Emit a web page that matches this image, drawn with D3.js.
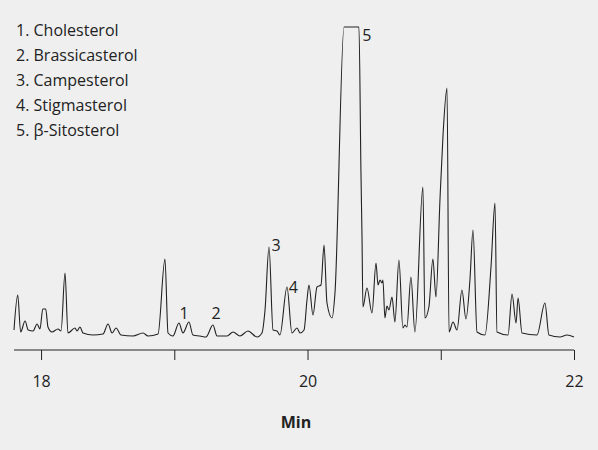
<!DOCTYPE html>
<html><head><meta charset="utf-8">
<script src="https://cdn.jsdelivr.net/npm/d3@7"></script>
<style>body{margin:0;background:#efefef}svg{display:block}text{font-family:"Open Sans",sans-serif;fill:#222}</style>
</head><body><svg id="c" width="598" height="450"></svg>
<script>
const times=[17.797,17.825,17.847,17.880,17.904,17.940,17.970,17.992,18.013,18.035,18.052,18.082,18.127,18.150,18.180,18.202,18.255,18.270,18.292,18.315,18.390,18.465,18.503,18.533,18.563,18.600,18.690,18.765,18.803,18.878,18.930,18.953,18.990,19.035,19.065,19.110,19.140,19.193,19.238,19.290,19.321,19.396,19.441,19.493,19.553,19.621,19.658,19.681,19.711,19.741,19.771,19.793,19.846,19.883,19.921,
19.944,19.974,19.996,20.011,20.041,20.071,20.101,20.124,20.146,20.184,20.206,20.274,20.386,20.401,20.409,20.416,20.446,20.484,20.514,20.529,20.544,20.559,20.566,20.581,20.596,20.611,20.634,20.656,20.686,20.716,20.731,20.746,20.776,20.806,20.866,20.881,20.911,20.941,20.964,20.994,21.017,21.047,21.062,21.092,21.122,21.159,21.189,21.219,21.242,21.272,21.332,21.377,21.407,21.422,21.505,21.535,21.565,21.580,21.610,21.722,21.782,21.812,21.895,21.947,22.000];
const signal=[15,50,13,24,15,14,21,16,36,36,18,13,16,14,72,12,17,14,18,12,10,11,21,12,17,10,9,12,9,11,86,12,9,22,12,23,10,9,8,20,9,9,13,9,14,8,12,35,98,15,14,10,58,12,17,
12,15,45,60,30,58,60,100,42,27,52,318,318,173,107,38,57,32,82,60,65,62,65,27,39,35,48,23,85,17,20,18,68,13,158,27,38,86,48,145,210,257,13,23,15,55,26,65,115,13,10,78,142,13,10,51,22,47,12,10,42,10,8,10,8];
const legendItems=["1. Cholesterol","2. Brassicasterol","3. Campesterol","4. Stigmasterol","5. β-Sitosterol"];
const peakLabels=[{l:"1",t:19.04,v:26},{l:"2",t:19.28,v:26},{l:"3",t:19.73,v:94},{l:"4",t:19.86,v:52},{l:"5",t:20.41,v:304}];
const xTicks=[18,20,22];
const svg=d3.select("#c");
const x=d3.scaleLinear().domain([17.797,22]).range([14,574]);
const y=d3.scaleLinear().domain([0,318]).range([345,27]);
svg.append("path").datum(times.map((t,i)=>[t,signal[i]])).attr("fill","none").attr("stroke","#222").attr("stroke-width",1.1)
 .attr("d",d3.line().x(d=>x(d[0])).y(d=>y(d[1])).curve(d3.curveMonotoneX));
const ax=svg.append("g").attr("transform","translate(0,350)")
 .call(d3.axisBottom(x).tickValues([18,19,20,21,22]).tickSize(10).tickFormat(d=>xTicks.includes(d)?d:""));
ax.select(".domain").attr("d","M14,0H574").attr("stroke","#222");
ax.selectAll("line").attr("stroke","#222");
ax.selectAll("text").attr("y",26).attr("dy","0.71em").style("font-size","16px").style("font-family","Open Sans");
svg.append("text").attr("x",296).attr("y",428).attr("text-anchor","middle").style("font-size","16px").style("font-weight","bold").text("Min");
legendItems.forEach((s,i)=>svg.append("text").attr("x",16).attr("y",36+i*25).style("font-size","16px").text(s));
peakLabels.forEach(p=>svg.append("text").attr("x",x(p.t)).attr("y",y(p.v)).style("font-size","16px").text(p.l));
</script></body></html>
